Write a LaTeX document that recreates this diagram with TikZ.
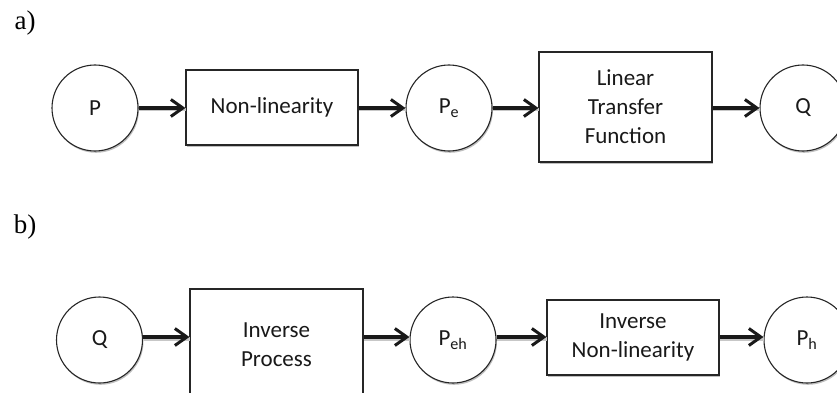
\documentclass[tikz,border=0pt]{standalone}
\usepackage{fontspec}
\setmainfont{Carlito}
\newfontfamily\labfont{Liberation Serif}
\usetikzlibrary{arrows.meta,shadows}
\tikzset{
  blk/.style={draw=black!85, line width=1.1pt, fill=white, align=center, inner sep=0pt,
    font=\fontsize{23}{29}\selectfont, text=black!90,
    drop shadow={shadow xshift=1pt, shadow yshift=-1.8pt, opacity=0.25, fill=black}},
  circ/.style={blk, circle, minimum size=86pt},
  box/.style={blk, rectangle, minimum width=172pt},
  conn/.style={line width=3.4pt, black!90,
    -{Straight Barb[length=12pt, width=17pt, line width=3pt]},
    preaction={draw=black!22, line width=3.4pt, transform canvas={shift={(0.8pt,-1.8pt)}}, -{}}},
  panel/.style={font=\labfont\fontsize{27}{30}\selectfont, inner sep=0pt}
}
\begin{document}
\begin{tikzpicture}[x=1pt,y=-1pt]
\useasboundingbox (0,0) rectangle (837,393);
\clip (0,0) rectangle (837,393);
\node[panel] (la) at (25,23) {a)};
\node[panel] (lb) at (25,227) {b)};
% row a
\node[circ] (P)  at (95,108) {P};
\node[box, minimum height=75pt] (NL) at (272,107.5) {Non-linearity};
\node[circ] (Pe) at (449,108) {P\textsubscript{e}};
\node[box, minimum height=110pt, minimum width=173pt] (LTF) at (625.5,107) {Linear\\Transfer\\Function};
\node[circ] (Q)  at (803,108) {Q};
% row b
\node[circ] (Q2) at (99.5,340) {Q};
\node[box, minimum height=112pt, minimum width=173pt] (IP) at (276.5,345) {Inverse\\Process};
\node[circ] (Peh) at (453,340) {P\textsubscript{eh}};
\node[box, minimum height=75pt] (INL) at (633,337.5) {Inverse\\Non-linearity};
\node[circ] (Ph) at (807,340) {P\textsubscript{h}};
% connectors
\draw[conn] (P.east) -- (NL.west |- P.east);
\draw[conn] (NL.east |- P.east) -- (Pe.west);
\draw[conn] (Pe.east) -- (LTF.west |- Pe.east);
\draw[conn] (LTF.east |- Q.west) -- (Q.west);
\draw[conn] ([yshift=3pt]Q2.east) -- ([yshift=3pt]IP.west |- Q2.east);
\draw[conn] ([yshift=3pt]IP.east |- Peh.west) -- ([yshift=3pt]Peh.west);
\draw[conn] ([yshift=3pt]Peh.east) -- ([yshift=3pt]INL.west |- Peh.east);
\draw[conn] ([yshift=3pt]INL.east |- Ph.west) -- ([yshift=3pt]Ph.west);
\end{tikzpicture}
\end{document}
